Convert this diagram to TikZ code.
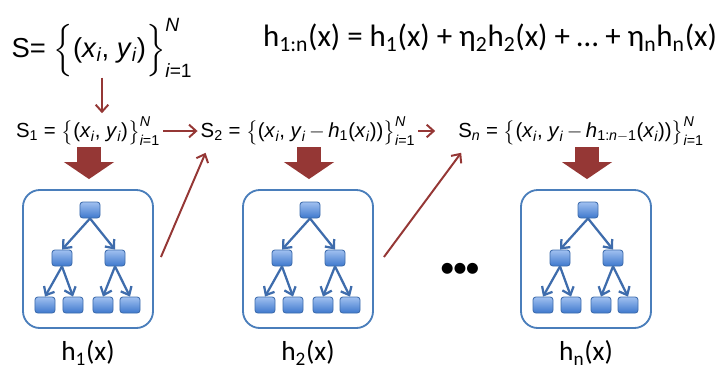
\documentclass[tikz,border=0pt]{standalone}
\usepackage{amsmath}
\usepackage{fontspec}
\setmainfont{Carlito}
\newfontfamily\hv{Liberation Sans}
\usetikzlibrary{positioning,arrows.meta,calc}
\definecolor{brick}{RGB}{149,55,53}
\definecolor{frame}{RGB}{74,126,187}
\definecolor{leaftop}{RGB}{160,192,240}
\definecolor{leafbot}{RGB}{62,120,205}
\definecolor{leafline}{RGB}{62,108,172}
\newcommand{\vx}{\textit{x}\ensuremath{_{\text{\itshape i}}}}
\newcommand{\vy}{\textit{y}\ensuremath{_{\text{\itshape i}}}}
\newcommand{\rng}{\ensuremath{\bigr\}^{\text{\itshape N}}_{\text{\itshape i}\text{=1}}}}

\begin{document}
\begin{tikzpicture}[x=0.025cm,y=-0.025cm,
  eq/.style={font=\hv\fontsize{14.5}{17}\selectfont,inner sep=2pt},
  lbl/.style={font=\fontsize{19.5}{23}\selectfont,inner sep=1pt},
  tbox/.style={draw=frame,line width=1.3pt,rounded corners=12pt,
    minimum width=3.25cm,minimum height=3.45cm},
  leaf/.style={draw=leafline,line width=0.6pt,rounded corners=2pt,
    top color=leaftop,bottom color=leafbot,inner sep=0pt,
    minimum width=0.5cm,minimum height=0.4cm},
  tarr/.style={-{Straight Barb[length=5pt,width=8.5pt]},draw=leafline,line width=1.6pt},
  rarr/.style={-{Straight Barb[length=5pt,width=9pt]},draw=brick,line width=1.4pt},
  blk/.style={draw=brick,line width=0.6cm,
    -{Triangle[length=0.425cm,width=1.25cm,line width=0pt]}}]
\useasboundingbox[fill=white] (0,0) rectangle (722,371);

% data set and additive model
\node[font=\hv\fontsize{19.5}{24}\selectfont,inner sep=0pt] (eqS) at (102,48)
  {S= $\Bigl\{$(\vx, \vy)\ensuremath{\Bigr\}^{\text{\itshape N}}_{\text{\itshape i}\text{=1}}}};
\node[font=\fontsize{22}{26}\selectfont] (eqH) at (490,38)
  {h\textsubscript{1:n}(x) = h\textsubscript{1}(x) + η\textsubscript{2}h\textsubscript{2}(x) + … + η\textsubscript{n}h\textsubscript{n}(x)};

% residual data sets
\node[eq] (S1) at (88,131) {S\ensuremath{_{\text{1}}} = $\bigl\{$(\vx, \vy)\rng};
\node[eq] (S2) at (308,131)
  {S\ensuremath{_{\text{2}}} = $\bigl\{$(\vx, \vy\,$-$\,\textit{h}\ensuremath{_{\text{1}}}(\vx))\rng};
\node[eq] (Sn) at (581,131)
  {S\ensuremath{_{\text{\itshape n}}} = $\bigl\{$(\vx, \vy\,$-$\,\textit{h}\ensuremath{_{\text{1:\itshape n\upshape$-$1}}}(\vx))\rng};

\draw[rarr] (eqS.south) -- (eqS.south |- S1.north);
\draw[rarr] (S1) -- (S2);
\draw[rarr] (S2) -- ($(Sn.west)+(-20,0)$);

% trees
\foreach \i/\x/\s in {1/88/1,2/308/2,3/586/n}{
  \node[tbox] (b\i) at (\x,259) {};
  \node[leaf] (r\i) at ($(b\i)+(2,-49)$) {};
  \node[leaf] (p\i) at ($(b\i)+(-26,-1)$) {};
  \node[leaf] (q\i) at ($(b\i)+(27,-1)$) {};
  \node[leaf] (u\i) at ($(b\i)+(-43,46)$) {};
  \node[leaf] (v\i) at ($(b\i)+(-15,46)$) {};
  \node[leaf] (w\i) at ($(b\i)+(15,46)$) {};
  \node[leaf] (z\i) at ($(b\i)+(42,46)$) {};
  \draw[tarr] (r\i.south) -- (p\i.north);
  \draw[tarr] (r\i.south) -- (q\i.north);
  \draw[tarr] (p\i.south) -- (u\i.north);
  \draw[tarr] (p\i.south) -- (v\i.north);
  \draw[tarr] (q\i.south) -- (w\i.north);
  \draw[tarr] (q\i.south) -- (z\i.north);
  \draw[blk] ($(b\i.north)+(1,-42)$) -- ($(b\i.north)+(1,-10)$);
  \node[lbl] (h\i) at (\x,353) {h\textsubscript{\s}(x)};
}

\draw[rarr] ($(b1.east)+(7,-2)$) -- ($(S2.south west)+(8,4)$);
\draw[rarr] ($(b2.east)+(10,-2)$) -- ($(Sn.south west)+(6,4)$);

\node[font=\fontsize{22}{26}\selectfont] (dots) at (460,270)
  {\textbullet\kern-2pt\textbullet\kern-2pt\textbullet};
\end{tikzpicture}
\end{document}
